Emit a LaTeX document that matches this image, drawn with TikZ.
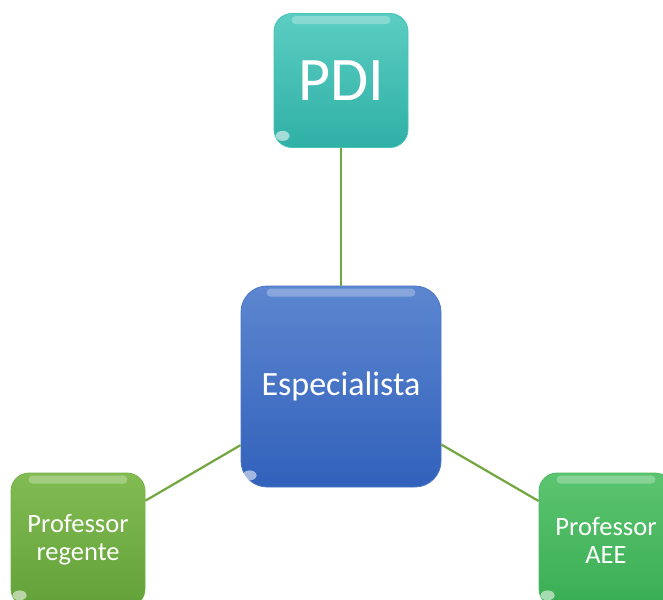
\documentclass[tikz,border=0pt]{standalone}
\usepackage{fontspec}
\setmainfont{Carlito}
\definecolor{tealT}{HTML}{5CCDC2}
\definecolor{tealB}{HTML}{2FB0A6}
\definecolor{tealE}{HTML}{46C2B7}
\definecolor{blueT}{HTML}{5C86CF}
\definecolor{blueB}{HTML}{3161BB}
\definecolor{blueE}{HTML}{4A76C6}
\definecolor{grnT}{HTML}{82BC52}
\definecolor{grnB}{HTML}{62A139}
\definecolor{grnE}{HTML}{74B046}
\definecolor{emT}{HTML}{5CC470}
\definecolor{emB}{HTML}{39AE53}
\definecolor{emE}{HTML}{4DBA63}
\definecolor{linkgreen}{RGB}{114,166,62}
\begin{document}
\begin{tikzpicture}[x=1pt,y=-1pt]
\useasboundingbox (0,0) rectangle (663,599);
\clip (0,0) rectangle (663,599);
\tikzset{
  box/.style={rounded corners=18pt, minimum width=134pt, minimum height=134pt,
    inner sep=0pt, text=white, align=center, line width=0.8pt},
  bigbox/.style={box, rounded corners=26pt, minimum width=200pt, minimum height=201pt},
  link/.style={draw=linkgreen, line width=2.2pt},
  gloss/.style={fill=white, opacity=0.28, rounded corners=4pt},
  spot/.style={fill=white, opacity=0.55}
}
% nodes
\node[box, draw=tealE, top color=tealT, bottom color=tealB,
      font=\fontsize{62}{62}\selectfont] (pdi) at (341,80.5) {PDI};
\node[bigbox, draw=blueE, top color=blueT, bottom color=blueB,
      font=\fontsize{34}{37}\selectfont] (esp) at (341,386.5) {Especialista};
\node[box, draw=grnE, top color=grnT, bottom color=grnB,
      font=\fontsize{26.5}{28}\selectfont] (reg) at (78,540) {Professor\\regente};
\node[box, draw=emE, top color=emT, bottom color=emB,
      font=\fontsize{26.5}{28}\selectfont] (aee) at (606,540) {Professor\\AEE};
% connectors
\draw[link] (pdi.south) -- (esp.north);
\draw[link] (esp) -- (reg);
\draw[link] (esp) -- (aee);
% gloss highlights
\foreach \n/\r in {pdi/18, reg/18, aee/18, esp/26}{
  \fill[gloss] ([xshift=\r pt, yshift=-3pt]\n.north west) rectangle ([xshift=-\r pt, yshift=-11pt]\n.north east);
  \fill[spot] ([xshift=9pt, yshift=12pt]\n.south west) ellipse [x radius=7pt, y radius=5pt];
}
\end{tikzpicture}
\end{document}
